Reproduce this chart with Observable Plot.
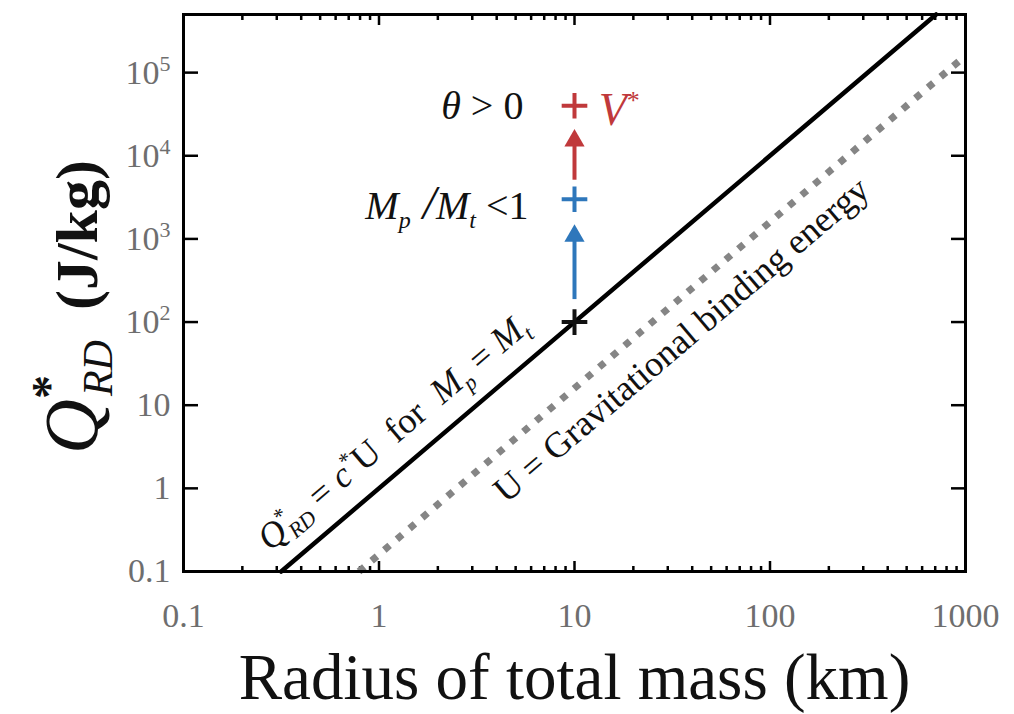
<!DOCTYPE html>
<html><head><meta charset="utf-8">
<script src="https://cdn.jsdelivr.net/npm/d3@7"></script>
<script src="https://cdn.jsdelivr.net/npm/@observablehq/plot@0.6"></script>
<style>
html,body{margin:0;padding:0;background:#fff;}
svg{display:block;}
svg text{white-space:pre;}
</style>
</head><body><div id="chart"></div>
<script>
// ---- axes ----
const xDomain = [0.1, 1000];
const yDomain = [0.1, 500000];
const xMajor = [0.1, 1, 10, 100, 1000];
const xMajorLabels = ["0.1", "1", "10", "100", "1000"];
const xMinor = [0.2,0.3,0.4,0.5,0.6,0.7,0.8,0.9, 2,3,4,5,6,7,8,9, 20,30,40,50,60,70,80,90, 200,300,400,500,600,700,800,900];
const yMajor = [0.1, 1, 10, 100, 1000, 10000, 100000];
const yMajorLabels = ["0.1", "1", "10", "10^2", "10^3", "10^4", "10^5"];

// ---- series (read at the ends of each line) ----
const strengthR = [0.316, 707];      // Q*_RD = c* U for Mp = Mt
const strengthQ = [0.1, 500000];
const bindingR = [0.79, 1000];       // U = gravitational binding energy
const bindingU = [0.1, 160000];

// ---- markers ----
const markerR = [10, 10, 10];
const markerQ = [100, 3000, 40000];
const markerColor = ["#111111", "#2e77bb", "#c0393b"];

// ---- arrows ----
const arrowR = [10, 10];
const arrowFrom = [220, 6000];
const arrowTo = [1500, 21000];
const arrowColor = ["#2e77bb", "#c0393b"];

const strength = strengthR.map((r, i) => ({R: r, Q: strengthQ[i]}));
const binding = bindingR.map((r, i) => ({R: r, U: bindingU[i]}));
const markers = markerR.map((r, i) => ({R: r, Q: markerQ[i], c: markerColor[i]}));
const arrows = arrowR.map((r, i) => ({R: r, from: arrowFrom[i], to: arrowTo[i], c: arrowColor[i]}));
const xLab = new Map(xMajor.map((v, i) => [v, xMajorLabels[i]]));
const yLab = new Map(yMajor.map((v, i) => [v, yMajorLabels[i]]));

const ANG = -40.4;
const serif = "'Liberation Serif','Times New Roman',serif";

const chart = Plot.plot({
  width: 1014, height: 714,
  marginLeft: 183, marginRight: 49, marginTop: 14, marginBottom: 143,
  style: {fontFamily: serif, background: "white", color: "black"},
  x: {type: "log", domain: xDomain},
  y: {type: "log", domain: yDomain},
  color: {type: "identity"},
  marks: [
    // ticks (inward)
    Plot.axisX({anchor: "bottom", ticks: xMajor, tickSize: -10, strokeWidth: 2.5, fill: "none", label: null}),
    Plot.axisX({anchor: "bottom", ticks: xMinor, tickSize: -5, strokeWidth: 2.5, fill: "none", label: null}),
    Plot.axisX({anchor: "top", ticks: xMajor, tickSize: -10, strokeWidth: 2.5, fill: "none", label: null}),
    Plot.axisX({anchor: "top", ticks: xMinor, tickSize: -5, strokeWidth: 2.5, fill: "none", label: null}),
    Plot.axisY({anchor: "left", ticks: yMajor, tickSize: -15, strokeWidth: 2.5, fill: "none", label: null}),
    Plot.axisY({anchor: "right", ticks: yMajor, tickSize: -15, strokeWidth: 2.5, fill: "none", label: null}),
    // tick labels
    Plot.axisX({anchor: "bottom", ticks: xMajor, tickSize: 0, tickPadding: 31, tickFormat: d => xLab.get(d), fontSize: 34, fill: "#6e6e6e", label: null}),
    Plot.axisY({anchor: "left", ticks: yMajor, tickSize: 0, tickPadding: 13, tickFormat: d => yLab.get(d), fontSize: 34, fill: "#6e6e6e", label: null}),
    // lines
    Plot.line(binding, {x: "R", y: "U", stroke: "#858585", strokeWidth: 7, strokeDasharray: "7,9.6", strokeLinecap: "butt"}),
    Plot.line(strength, {x: "R", y: "Q", stroke: "#000", strokeWidth: 4.5}),
    // arrows
    Plot.ruleX(arrows, {x: "R", y1: "from", y2: "to", stroke: "c", strokeWidth: 4, dy: 6}),
    Plot.dot(arrows, {x: "R", y: "to", symbol: "triangle", r: 7.5, fill: "c", stroke: "none", dy: 11.7}),
    // plus markers
    Plot.dot(markers, {x: "R", y: "Q", symbol: "plus", r: 8.3, stroke: "c", strokeWidth: 4}),
    // annotations
    Plot.text([{R: 5.48, Q: 40000, t: "θ > 0"}], {x: "R", y: "Q", text: "t", textAnchor: "end", lineAnchor: "middle", fontSize: 40, fill: "#111"}),
    Plot.text([{R: 5.82, Q: 2500, t: "Mp/Mt <1"}], {x: "R", y: "Q", text: "t", textAnchor: "end", lineAnchor: "middle", fontSize: 40, fill: "#111"}),
    Plot.text([{R: 13.3, Q: 35000, t: "V*"}], {x: "R", y: "Q", text: "t", textAnchor: "start", lineAnchor: "middle", fontSize: 46, fill: "#c0393b"}),
    Plot.text([{R: 1.52, Q: 2.32, t: "Q*RD = c*U for Mp = Mt"}], {x: "R", y: "Q", text: "t", textAnchor: "middle", lineAnchor: "bottom", rotate: ANG, dx: -14.3, dy: -16.8, fontSize: 36, fill: "#111"}),
    Plot.text([{R: 27.5, Q: 121, t: "U = Gravitational binding energy"}], {x: "R", y: "Q", text: "t", textAnchor: "middle", lineAnchor: "top", rotate: ANG, dx: 12, dy: 14, fontSize: 36, fill: "#111"}),
    // axis titles
    Plot.text(["Radius of total mass (km)"], {frameAnchor: "bottom", lineAnchor: "bottom", dy: 127, fontSize: 65, fill: "#111"}),
    Plot.text(["Q*RD (J/kg)"], {frameAnchor: "left", textAnchor: "middle", lineAnchor: "middle", rotate: -90, dx: -106, dy: 14, fontSize: 62, fill: "#111"}),
    Plot.frame({stroke: "#000", strokeWidth: 3})
  ]
});
document.getElementById("chart").appendChild(chart);

// ---- rich text (sub/superscripts, italics) ----
function rich(el, segs) {
  const t = d3.select(el);
  t.text(null);
  let shift = 0;
  for (const s of segs) {
    const ts = t.append("tspan").text(s.t);
    const target = s.shift || 0;
    const dy = -(target - shift);
    if (dy) ts.attr("dy", dy);
    shift = target;
    if (s.dx) ts.attr("dx", s.dx);
    if (s.italic) ts.attr("font-style", "italic");
    if (s.bold) ts.attr("font-weight", "bold");
    if (s.size) ts.attr("font-size", s.size);
    if (s.fill) ts.attr("fill", s.fill);
  }
}
const texts = d3.select(chart).selectAll("text");
function find(str) { return texts.filter(function() { return this.textContent === str; }).nodes(); }

texts.each(function() {
  const m = /^10\^(\d)$/.exec(this.textContent);
  if (m) rich(this, [{t: "10"}, {t: m[1], size: 22, shift: 13}]);
});
find("θ > 0").forEach(el => rich(el, [{t: "θ", italic: true}, {t: " > 0"}]));
find("Mp/Mt <1").forEach(el => rich(el, [
  {t: "M", italic: true}, {t: "p", italic: true, size: 24, shift: -9},
  {t: " /", italic: true, size: 48, shift: 0}, {t: "M", italic: true},
  {t: "t", italic: true, size: 24, shift: -9}, {t: " <1", shift: 0}
]));
find("V*").forEach(el => rich(el, [{t: "V", italic: true}, {t: "*", size: 26, shift: 16}]));
find("Q*RD = c*U for Mp = Mt").forEach(el => rich(el, [
  {t: "Q", italic: true}, {t: "*", size: 22, shift: 14}, {t: "RD", italic: true, size: 22, shift: -7, dx: -9},
  {t: " = ", shift: 0}, {t: "c", italic: true}, {t: "*", size: 22, shift: 14}, {t: "U", shift: 0},
  {t: "  for  "}, {t: "M", italic: true}, {t: "p", italic: true, size: 22, shift: -8},
  {t: " = ", shift: 0}, {t: "M", italic: true}, {t: "t", italic: true, size: 22, shift: -8}
]));
find("Q*RD (J/kg)").forEach(el => rich(el, [
  {t: "Q", italic: true, size: 76}, {t: "*", bold: true, size: 48, shift: 32},
  {t: "RD", italic: true, size: 42, shift: -15, dx: -21},
  {t: "  (J/kg)", bold: true, size: 60, shift: 0}
]));
</script>
</body></html>
